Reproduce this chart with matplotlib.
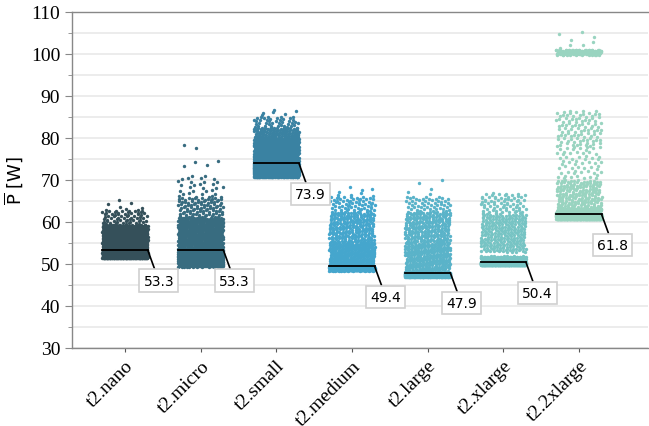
import numpy as np
import matplotlib
matplotlib.use('Agg')
import matplotlib.pyplot as plt
from matplotlib.ticker import MultipleLocator

# インスタンスタイプ
types = ['t2.nano', 't2.micro', 't2.small', 't2.medium', 't2.large', 't2.xlarge', 't2.2xlarge']
medians = [53.3, 53.3, 73.9, 49.4, 47.9, 50.4, 61.8]
colors = ['#35505a', '#386c80', '#3a82a2', '#45a6cd', '#5ab3c9', '#77c4c4', '#99d4c0']

# 図から読み取った分布 (下限, 上限, 点数)
bands_nano = [(51.3, 53.3, 760), (53.3, 59.2, 680), (59.2, 63.0, 70), (63.0, 65.3, 5)]
bands_micro = [(49.3, 53.3, 720), (53.3, 61.0, 560), (61.0, 66.0, 100), (66.0, 71.0, 28),
               (72.3, 74.5, 4), (77.5, 78.5, 2)]
bands_small = [(70.6, 73.9, 700), (73.9, 80.0, 560), (80.0, 82.5, 120), (82.5, 85.0, 40),
               (85.0, 86.6, 6)]
bands_medium = [(48.4, 49.4, 680), (49.4, 55.0, 300), (55.0, 62.5, 230), (62.5, 66.0, 60),
                (66.0, 68.5, 8)]
bands_large = [(46.9, 47.9, 660), (47.9, 55.0, 300), (55.0, 62.5, 230), (62.5, 66.0, 50),
               (66.0, 71.0, 5)]
bands_xlarge = [(49.7, 50.4, 700), (50.4, 51.8, 180), (52.8, 62.0, 250), (62.0, 66.8, 70)]
bands_2xlarge = [(60.6, 61.8, 880), (61.8, 63.2, 260), (63.2, 70.0, 170), (70.0, 78.0, 60),
                 (78.0, 86.5, 100), (99.7, 101.0, 130), (101.0, 105.5, 8)]
bands = [bands_nano, bands_micro, bands_small, bands_medium, bands_large, bands_xlarge, bands_2xlarge]

jitter = 0.3

fig = plt.figure(figsize=(6.49, 4.27), dpi=100)
ax = fig.add_axes([0.111, 0.183, 0.887, 0.787])

for i, (bl, c) in enumerate(zip(bands, colors)):
    ys = []
    xs = []
    k = 0
    for lo, hi, n in bl:
        idx = np.arange(n) + k
        # 準乱数で帯の中に点を散らす
        u = (0.5 + idx * 0.7548776662) % 1.0
        v = (0.5 + idx * 0.5698402910) % 1.0
        xs.append(i + (u * 2 - 1) * jitter)
        ys.append(lo + v * (hi - lo))
        k += n
    ax.scatter(np.concatenate(xs), np.concatenate(ys), s=6, color=c, linewidths=0, zorder=2)
    ax.plot([i - jitter, i + jitter], [medians[i], medians[i]], color='black', lw=1.3, zorder=3)
    ax.annotate(f'{medians[i]:.1f}', xy=(i + jitter, medians[i]), xytext=(8, -22),
                textcoords='offset points', ha='center', va='center', fontsize=10,
                family='DejaVu Sans',
                bbox=dict(boxstyle='square,pad=0.3', fc='white', ec='#d0d0d0', lw=1.2),
                arrowprops=dict(arrowstyle='-', color='black', lw=1.2, shrinkA=0, shrinkB=0),
                zorder=4)

ax.set_xlim(-0.7, 6.91)
ax.set_ylim(30, 110)
ax.yaxis.set_major_locator(MultipleLocator(10))
ax.yaxis.set_minor_locator(MultipleLocator(5))
ax.grid(True, axis='y', which='both', color='#ebebeb', lw=1.3, zorder=0)
ax.set_axisbelow(True)

ax.set_xticks(range(len(types)))
ax.set_xticklabels(types, rotation=45, ha='right', rotation_mode='anchor',
                   family='Liberation Serif', fontsize=14)
for lab in ax.get_yticklabels():
    lab.set_family('Liberation Serif')
    lab.set_fontsize(14)
ax.set_ylabel(r'$\overline{\mathrm{P}}$ [W]', fontsize=13, family='DejaVu Sans')

for s in ['left', 'bottom', 'top']:
    ax.spines[s].set_color('#888888')
    ax.spines[s].set_linewidth(1.0)
ax.spines['right'].set_visible(False)
ax.tick_params(axis='y', which='major', length=5, color='#888888', labelsize=14)
ax.tick_params(axis='y', which='minor', length=3, color='#888888')
ax.tick_params(axis='x', length=3, color='#555555', labelsize=14)

fig.savefig('out.png', dpi=100)
